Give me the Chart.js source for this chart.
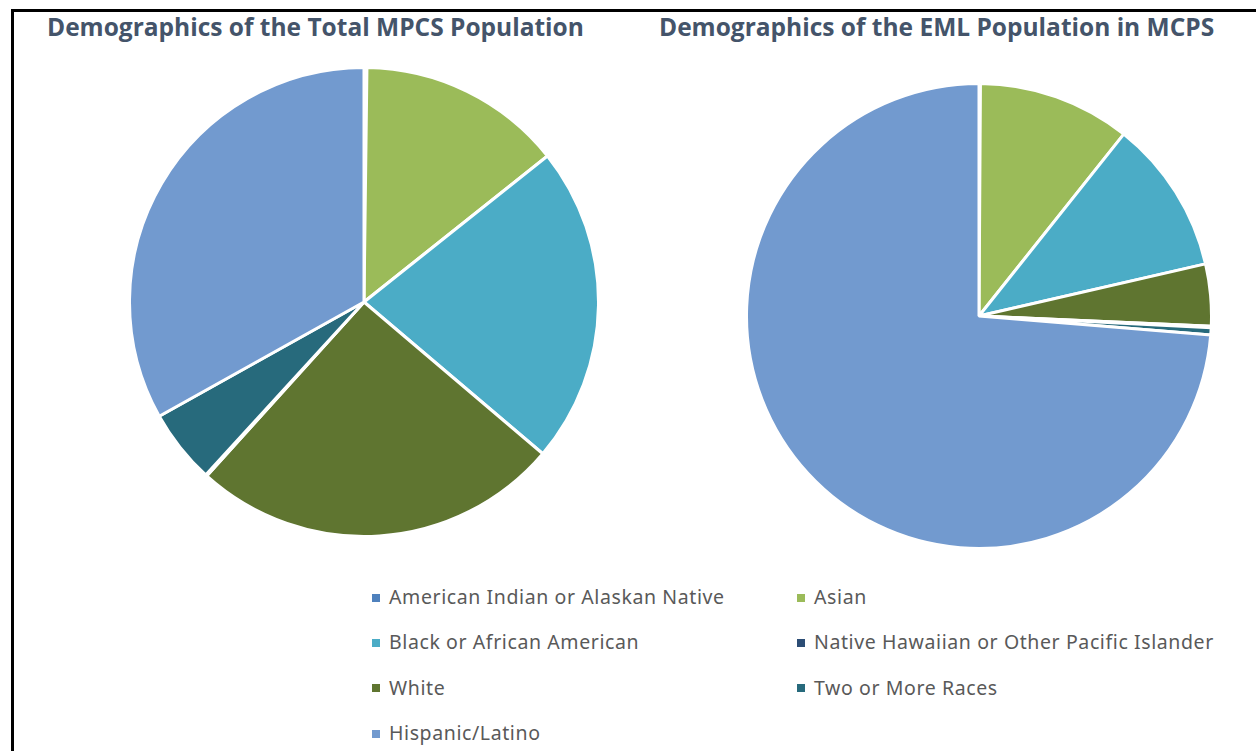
<!DOCTYPE html>
<html>
<head>
<meta charset="utf-8">
<script src="https://cdn.jsdelivr.net/npm/chart.js@4/dist/chart.umd.min.js"></script>
<style>
  body { margin: 0; background: #fff; width: 1256px; height: 751px; overflow: hidden; position: relative; }
  .frame { position: absolute; left: 11px; top: 9px; width: 1300px; height: 800px; border-left: 3px solid #000; border-top: 3px solid #000; }
  .title { position: absolute; top: 10px; font-family: "Open Sans", sans-serif; font-weight: bold; font-size: 24.5px; color: #44546A; white-space: nowrap; }
  .pie { position: absolute; }
  .legend { position: absolute; font-family: "Noto Sans", sans-serif; font-size: 19.5px; letter-spacing: 0.6px; color: #595959; white-space: nowrap; }
  .legend span.box { display: inline-block; width: 8px; height: 8px; margin-right: 9px; vertical-align: middle; position: relative; top: -1px; }
</style>
</head>
<body>
<div class="frame"></div>
<div class="title" style="left:47px">Demographics of the Total MPCS Population</div>
<div class="title" style="left:659px">Demographics of the EML Population in MCPS</div>
<div class="pie" style="left:128px;top:66px;width:472px;height:472px"><canvas id="pie1"></canvas></div>
<div class="pie" style="left:745px;top:82px;width:468px;height:468px"><canvas id="pie2"></canvas></div>
<div id="legend"></div>
<script>
// categorias y valores (porcentajes)
const categorias = [
  "American Indian or Alaskan Native",
  "Asian",
  "Black or African American",
  "White",
  "Native Hawaiian or Other Pacific Islander",
  "Two or More Races",
  "Hispanic/Latino"
];
const totalMcps = [0.2, 14.1, 21.9, 25.5, 0.1, 5.1, 33.1];
const poblacionEml = [0.1, 10.6, 10.7, 4.3, 0.1, 0.5, 73.7];
const colores = ["#4F81BD", "#9BBB59", "#4BACC6", "#5F7530", "#2C4D75", "#276A7C", "#729ACF"];

function crearPie(id, valores) {
  const ctx = document.getElementById(id).getContext("2d");
  return new Chart(ctx, {
    type: "pie",
    data: {
      labels: categorias,
      datasets: [{
        data: valores,
        backgroundColor: colores,
        borderColor: "#FFFFFF",
        borderWidth: 3
      }]
    },
    options: {
      responsive: true,
      maintainAspectRatio: false,
      animation: false,
      layout: { padding: 0 },
      plugins: {
        legend: { display: false },
        tooltip: { enabled: false }
      }
    }
  });
}

crearPie("pie1", totalMcps);
crearPie("pie2", poblacionEml);

// leyenda en dos columnas (mismo orden que la de Excel)
const filasLeyenda = [[0, 1], [2, 4], [3, 5], [6]];
const leyenda = document.getElementById("legend");
filasLeyenda.forEach((fila, f) => {
  fila.forEach((i, col) => {
    const item = document.createElement("div");
    item.className = "legend";
    item.style.left = (col === 0 ? 372 : 797) + "px";
    item.style.top = (583 + f * 45.3) + "px";
    item.innerHTML = '<span class="box" style="background:' + colores[i] + '"></span>' + categorias[i];
    leyenda.appendChild(item);
  });
});
</script>
</body>
</html>
